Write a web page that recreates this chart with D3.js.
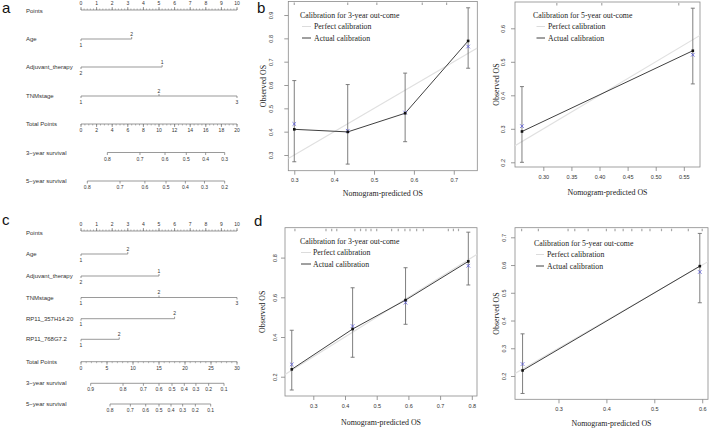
<!DOCTYPE html>
<html>
<head>
<meta charset="utf-8">
<script src="https://cdn.jsdelivr.net/npm/d3@7"></script>
<style>
  body { margin: 0; background: #fff; }
  svg { display: block; }
</style>
</head>
<body>
<svg id="fig"></svg>
<script>
// ---- Nomogram a ----
const aAgeLevels = ['1', '2'];
const aAgePts = [0, 3.25];
const aAdjLevels = ['2', '1'];
const aAdjPts = [0, 5.2];
const aTnmLevels = ['1', '2', '3'];
const aTnmPts = [0, 5, 10];
const aTotalTicks = [0, 2, 4, 6, 8, 10, 12, 14, 16, 18, 20];
const aSurv3 = ['0.8', '0.7', '0.6', '0.5', '0.4', '0.3'];
const aSurv3Pts = [3.38, 7.56, 10.77, 13.5, 15.98, 18.42];
const aSurv5 = ['0.8', '0.7', '0.6', '0.5', '0.4', '0.3', '0.2'];
const aSurv5Pts = [0.81, 5.0, 8.19, 10.9, 13.38, 15.83, 18.42];

// ---- Nomogram c ----
const cAgeLevels = ['1', '2'];
const cAgePts = [0, 3.0];
const cAdjLevels = ['2', '1'];
const cAdjPts = [0, 5.0];
const cTnmLevels = ['1', '2', '3'];
const cTnmPts = [0, 5, 10];
const cRp357Levels = ['1', '2'];
const cRp357Pts = [0, 6.0];
const cRp768Levels = ['1', '2'];
const cRp768Pts = [0, 2.45];
const cTotalTicks = [0, 5, 10, 15, 20, 25, 30];
const cSurv3 = ['0.9', '0.8', '0.7', '0.6', '0.5', '0.4', '0.3', '0.2', '0.1'];
const cSurv3Pts = [1.86, 8.08, 12.0, 15.0, 17.5, 19.87, 22.1, 24.55, 27.5];
const cSurv5 = ['0.8', '0.7', '0.6', '0.5', '0.4', '0.3', '0.2', '0.1'];
const cSurv5Pts = [5.58, 9.49, 12.44, 15.0, 17.31, 19.55, 21.99, 24.94];

const pointTicks = [0, 1, 2, 3, 4, 5, 6, 7, 8, 9, 10];

// ---- Calibration b (3-year / 5-year) ----
const b3Pred = [0.300, 0.434, 0.578, 0.736];
const b3Obs = [0.410, 0.399, 0.479, 0.789];
const b3Corr = [0.433, 0.404, 0.482, 0.765];
const b3Lo = [0.271, 0.261, 0.357, 0.672];
const b3Hi = [0.619, 0.602, 0.651, 0.931];
const b3Rug = [0.300, 0.434, 0.507, 0.621, 0.682];
const b3XTicks = [0.3, 0.4, 0.5, 0.6, 0.7];
const b3YTicks = [0.3, 0.4, 0.5, 0.6, 0.7, 0.8, 0.9];

const b5Pred = [0.262, 0.566];
const b5Obs = [0.292, 0.533];
const b5Corr = [0.308, 0.521];
const b5Lo = [0.200, 0.434];
const b5Hi = [0.426, 0.660];
const b5Rug = [0.324, 0.404, 0.541];
const b5XTicks = [0.30, 0.35, 0.40, 0.45, 0.50, 0.55];
const b5YTicks = [0.2, 0.3, 0.4, 0.5, 0.6];

// ---- Calibration d (3-year / 5-year) ----
const d3Pred = [0.232, 0.424, 0.591, 0.789];
const d3Obs = [0.237, 0.440, 0.586, 0.781];
const d3Corr = [0.262, 0.455, 0.573, 0.759];
const d3Lo = [0.133, 0.298, 0.464, 0.662];
const d3Hi = [0.434, 0.648, 0.749, 0.928];
const d3Rug = [0.242, 0.340, 0.358, 0.374, 0.431, 0.449, 0.466, 0.482, 0.500,
               0.547, 0.568, 0.589, 0.605, 0.626, 0.647, 0.726, 0.742, 0.758];
const d3XTicks = [0.3, 0.4, 0.5, 0.6, 0.7, 0.8];
const d3YTicks = [0.2, 0.4, 0.6, 0.8];

const d5Pred = [0.225, 0.595];
const d5Obs = [0.220, 0.596];
const d5Corr = [0.243, 0.575];
const d5Lo = [0.137, 0.464];
const d5Hi = [0.352, 0.714];
const d5Rug = [0.223, 0.258, 0.320, 0.334, 0.362, 0.400, 0.418, 0.435, 0.453,
               0.474, 0.491, 0.515, 0.536, 0.571, 0.600];
const d5XTicks = [0.3, 0.4, 0.5, 0.6];
const d5YTicks = [0.2, 0.3, 0.4, 0.5, 0.6, 0.7];

const W = 709, H = 428;
const SANS = "'Liberation Sans', Arial, sans-serif";
const SERIF = "'Liberation Serif', 'Times New Roman', serif";
const LINE = '#6e6e6e';
const TXT = '#333';

const svg = d3.select('#fig').attr('width', W).attr('height', H);
svg.append('rect').attr('width', W).attr('height', H).attr('fill', '#fff');

// panel letters
[['a', 2, 13], ['b', 257, 13], ['c', 2, 225], ['d', 254, 226]].forEach(([t, x, y]) => {
  svg.append('text').attr('x', x).attr('y', y).text(t)
    .attr('font-family', SANS).attr('font-size', 15).attr('fill', '#111');
});

// ---------- Nomogram ----------
function drawNomogram(rows, totalMax, minorTotal) {
  const g = svg.append('g');
  const pts = d3.scaleLinear().domain([0, 10]).range([81, 237]);
  const tot = d3.scaleLinear().domain([0, totalMax]).range([81, 237]);

  const label = (t, y) => g.append('text').attr('x', 26).attr('y', y + 2)
    .text(t).attr('font-family', SANS).attr('font-size', 6).attr('fill', TXT);
  const tick = (t, x, y, dy) => g.append('text').attr('x', x).attr('y', y + dy)
    .attr('text-anchor', 'middle').text(t)
    .attr('font-family', SANS).attr('font-size', 5).attr('fill', TXT);
  const seg = (x1, y1, x2, y2, w) => g.append('line')
    .attr('x1', x1).attr('y1', y1).attr('x2', x2).attr('y2', y2)
    .attr('stroke', LINE).attr('stroke-width', w || 0.7);

  rows.forEach(r => {
    label(r.label, r.labelY !== undefined ? r.labelY : r.y);
    if (r.type === 'points') {
      seg(pts(0), r.y, pts(10), r.y);
      d3.range(0, 10.01, 0.2).forEach(v => seg(pts(v), r.y, pts(v), r.y - 1.5, 0.5));
      pointTicks.forEach(v => {
        seg(pts(v), r.y, pts(v), r.y - 3);
        tick(v, pts(v), r.y, -5);
      });
    } else if (r.type === 'var') {
      seg(pts(r.pts[0]), r.y, pts(r.pts[r.pts.length - 1]), r.y);
      r.levels.forEach((lv, i) => {
        const up = i % 2 === 1;
        seg(pts(r.pts[i]), r.y, pts(r.pts[i]), r.y + (up ? -2 : 2));
        tick(lv, pts(r.pts[i]), r.y, up ? -3.5 : 7.5);
      });
    } else if (r.type === 'total') {
      seg(tot(0), r.y, tot(totalMax), r.y);
      d3.range(0, totalMax + 0.01, minorTotal).forEach(v => seg(tot(v), r.y, tot(v), r.y + 1.5, 0.5));
      r.ticks.forEach(v => {
        seg(tot(v), r.y, tot(v), r.y + 3);
        tick(v, tot(v), r.y, 8);
      });
    } else if (r.type === 'surv') {
      seg(tot(r.pts[0]), r.y, tot(r.pts[r.pts.length - 1]), r.y);
      r.labels.forEach((lv, i) => {
        seg(tot(r.pts[i]), r.y, tot(r.pts[i]), r.y + 2.5);
        tick(lv, tot(r.pts[i]), r.y, 8);
      });
    }
  });
}

drawNomogram([
  { label: 'Points', type: 'points', y: 10, labelY: 11 },
  { label: 'Age', type: 'var', y: 39, levels: aAgeLevels, pts: aAgePts },
  { label: 'Adjuvant_therapy', type: 'var', y: 67, levels: aAdjLevels, pts: aAdjPts },
  { label: 'TNMstage', type: 'var', y: 96, levels: aTnmLevels, pts: aTnmPts },
  { label: 'Total Points', type: 'total', y: 124, ticks: aTotalTicks },
  { label: '3\u2212year survival', type: 'surv', y: 152.5, labels: aSurv3, pts: aSurv3Pts },
  { label: '5\u2212year survival', type: 'surv', y: 181, labels: aSurv5, pts: aSurv5Pts }
], 20, 0.5);

drawNomogram([
  { label: 'Points', type: 'points', y: 231, labelY: 233 },
  { label: 'Age', type: 'var', y: 254, levels: cAgeLevels, pts: cAgePts },
  { label: 'Adjuvant_therapy', type: 'var', y: 276, levels: cAdjLevels, pts: cAdjPts },
  { label: 'TNMstage', type: 'var', y: 297.5, levels: cTnmLevels, pts: cTnmPts },
  { label: 'RP11_357H14.20', type: 'var', y: 318.7, levels: cRp357Levels, pts: cRp357Pts },
  { label: 'RP11_768G7.2', type: 'var', y: 339.3, levels: cRp768Levels, pts: cRp768Pts },
  { label: 'Total Points', type: 'total', y: 361.7, ticks: cTotalTicks },
  { label: '3\u2212year survival', type: 'surv', y: 383.3, labels: cSurv3, pts: cSurv3Pts },
  { label: '5\u2212year survival', type: 'surv', y: 404, labels: cSurv5, pts: cSurv5Pts }
], 30, 1);

// ---------- Calibration plots ----------
function drawCal(p) {
  const g = svg.append('g');
  const x = d3.scaleLinear().domain(p.xDomain).range([p.left, p.right]);
  const y = d3.scaleLinear().domain(p.yDomain).range([p.bottom, p.top]);

  const clipId = 'clip' + p.id;
  g.append('clipPath').attr('id', clipId).append('rect')
    .attr('x', p.left).attr('y', p.top)
    .attr('width', p.right - p.left).attr('height', p.bottom - p.top);

  // axes
  const xa = g.append('g').attr('transform', `translate(0,${p.bottom})`)
    .call(d3.axisBottom(x).tickValues(p.xTicks).tickSize(4).tickFormat(d3.format(p.xFmt)));
  const ya = g.append('g').attr('transform', `translate(${p.left},0)`)
    .call(d3.axisLeft(y).tickValues(p.yTicks).tickSize(4).tickFormat(d3.format('.1f')));
  [xa, ya].forEach(a => {
    a.select('.domain').remove();
    a.selectAll('line').attr('stroke', LINE).attr('stroke-width', 0.7);
    a.selectAll('text').attr('font-family', SANS).attr('font-size', 5.5).attr('fill', TXT);
  });
  xa.selectAll('text').attr('y', p.xLabOff).attr('dy', '0.35em');
  ya.selectAll('text').attr('x', 0).attr('y', -p.yLabOff).attr('dy', 0)
    .attr('text-anchor', 'middle').attr('transform', 'rotate(-90)');

  // box
  g.append('rect').attr('x', p.left).attr('y', p.top)
    .attr('width', p.right - p.left).attr('height', p.bottom - p.top)
    .attr('fill', 'none').attr('stroke', '#8a8a8a').attr('stroke-width', 0.8);

  // rug of predicted values at top
  g.selectAll('.rug').data(p.rug).join('line')
    .attr('x1', d => x(d)).attr('x2', d => x(d))
    .attr('y1', p.top + 1).attr('y2', p.top + 3.5)
    .attr('stroke', '#a8a8a8').attr('stroke-width', 1.2);

  // perfect calibration line (y = x)
  const lo = Math.max(p.xDomain[0], p.yDomain[0]);
  const hi = Math.min(p.xDomain[1], p.yDomain[1]);
  g.append('line').attr('clip-path', `url(#${clipId})`)
    .attr('x1', x(lo)).attr('y1', y(lo)).attr('x2', x(hi)).attr('y2', y(hi))
    .attr('stroke', '#e0e0e0').attr('stroke-width', 1.2);

  // error bars
  const idx = d3.range(p.pred.length);
  idx.forEach(i => {
    const xi = x(p.pred[i]);
    g.append('line').attr('x1', xi).attr('x2', xi)
      .attr('y1', y(p.lo[i])).attr('y2', y(p.hi[i]))
      .attr('stroke', '#707070').attr('stroke-width', 0.9);
    [p.lo[i], p.hi[i]].forEach(v => g.append('line')
      .attr('x1', xi - 2).attr('x2', xi + 2).attr('y1', y(v)).attr('y2', y(v))
      .attr('stroke', '#707070').attr('stroke-width', 0.9));
  });

  // actual calibration line
  g.append('path')
    .datum(idx)
    .attr('d', d3.line().x(i => x(p.pred[i])).y(i => y(p.obs[i])))
    .attr('fill', 'none').attr('stroke', '#404040').attr('stroke-width', 1);

  // bias-corrected marks (blue x)
  idx.forEach(i => {
    const cx = x(p.pred[i]), cy = y(p.corr[i]), s = 1.8;
    g.append('path').attr('d', `M${cx - s},${cy - s}L${cx + s},${cy + s}M${cx - s},${cy + s}L${cx + s},${cy - s}`)
      .attr('stroke', '#5a5ad8').attr('stroke-width', 0.8);
  });
  // observed points
  idx.forEach(i => {
    g.append('rect').attr('x', x(p.pred[i]) - 1.3).attr('y', y(p.obs[i]) - 1.3)
      .attr('width', 2.6).attr('height', 2.6).attr('fill', '#111');
  });

  // titles
  g.append('text').attr('x', (p.left + p.right) / 2).attr('y', p.xTitleY)
    .attr('text-anchor', 'middle').text('Nomogram-predicted OS')
    .attr('font-family', SERIF).attr('font-size', 7.9).attr('fill', '#222');
  g.append('text').attr('transform', `translate(${p.yTitleX},${(p.top + p.bottom) / 2}) rotate(-90)`)
    .attr('text-anchor', 'middle').text('Observed OS')
    .attr('font-family', SERIF).attr('font-size', 7.9).attr('fill', '#222');

  // legend
  const L = p.legend;
  g.append('text').attr('x', L.x).attr('y', L.y).text(L.title)
    .attr('font-family', SERIF).attr('font-size', 7.8).attr('fill', '#222');
  [['Perfect calibration', '#dcdcdc'], ['Actual calibration', '#404040']].forEach(([t, c], k) => {
    const ly = L.y + 11.5 * (k + 1);
    g.append('line').attr('x1', L.lx1).attr('x2', L.lx2)
      .attr('y1', ly - 2.5).attr('y2', ly - 2.5)
      .attr('stroke', c).attr('stroke-width', 1);
    g.append('text').attr('x', L.tx).attr('y', ly).text(t)
      .attr('font-family', SERIF).attr('font-size', 7.8).attr('fill', '#222');
  });
}

drawCal({
  id: 'b3', left: 288.3, right: 477.3, top: 1.5, bottom: 170.7,
  xDomain: [0.285, 0.759], yDomain: [0.2327, 0.958],
  xTicks: b3XTicks, yTicks: b3YTicks, xFmt: '.1f',
  pred: b3Pred, obs: b3Obs, corr: b3Corr, lo: b3Lo, hi: b3Hi, rug: b3Rug,
  xLabOff: 9.5, yLabOff: 15, xTitleY: 195.5, yTitleX: 265.5,
  legend: { x: 300, y: 17.5, title: 'Calibration for 3-year out-come', lx1: 302, lx2: 311, tx: 314 }
});

drawCal({
  id: 'b5', left: 515, right: 700, top: 2, bottom: 167,
  xDomain: [0.2496, 0.5788], yDomain: [0.186, 0.6785],
  xTicks: b5XTicks, yTicks: b5YTicks, xFmt: '.2f',
  pred: b5Pred, obs: b5Obs, corr: b5Corr, lo: b5Lo, hi: b5Hi, rug: b5Rug,
  xLabOff: 10.5, yLabOff: 10, xTitleY: 194.5, yTitleX: 499,
  legend: { x: 533, y: 17.5, title: 'Calibration for 5-year out-come', lx1: 536.5, lx2: 545, tx: 548 }
});

drawCal({
  id: 'd3', left: 285, right: 477, top: 227.7, bottom: 396,
  xDomain: [0.2107, 0.8164], yDomain: [0.1028, 0.9506],
  xTicks: d3XTicks, yTicks: d3YTicks, xFmt: '.1f',
  pred: d3Pred, obs: d3Obs, corr: d3Corr, lo: d3Lo, hi: d3Hi, rug: d3Rug,
  xLabOff: 10.5, yLabOff: 8.5, xTitleY: 424.5, yTitleX: 265,
  legend: { x: 300, y: 243.5, title: 'Calibration for 3-year out-come', lx1: 301, lx2: 311, tx: 313 }
});

drawCal({
  id: 'd5', left: 515, right: 708, top: 227.7, bottom: 399.3,
  xDomain: [0.2092, 0.6121], yDomain: [0.116, 0.7346],
  xTicks: d5XTicks, yTicks: d5YTicks, xFmt: '.1f',
  pred: d5Pred, obs: d5Obs, corr: d5Corr, lo: d5Lo, hi: d5Hi, rug: d5Rug,
  xLabOff: 10, yLabOff: 9.5, xTitleY: 425.5, yTitleX: 498.5,
  legend: { x: 534, y: 245.5, title: 'Calibration for 5-year out-come', lx1: 536, lx2: 544, tx: 547 }
});
</script>
</body>
</html>
